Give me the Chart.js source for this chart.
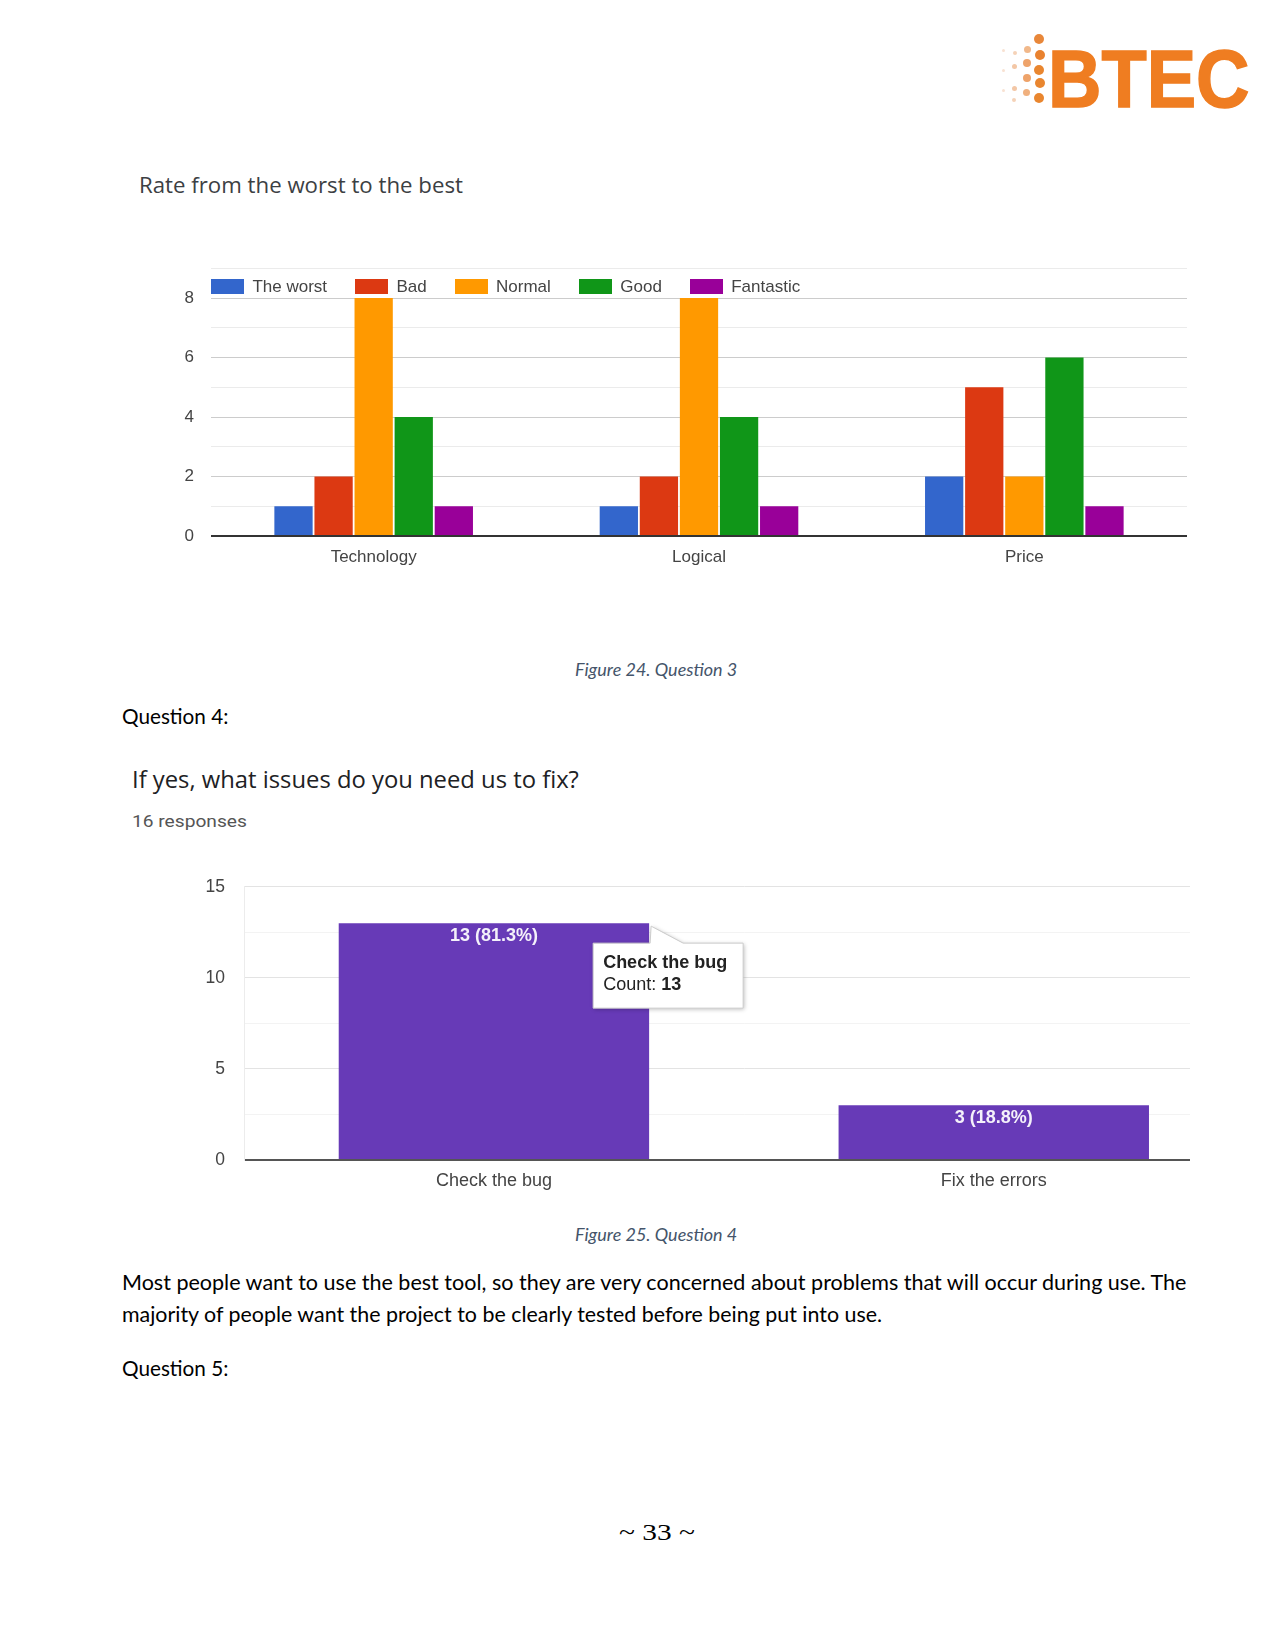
<!DOCTYPE html>
<html>
<head>
<meta charset="utf-8">
<script src="https://cdn.jsdelivr.net/npm/chart.js@4.4.1/dist/chart.umd.min.js"></script>
<style>
html,body{margin:0;padding:0;background:#fff;}
body{width:1275px;height:1651px;position:relative;overflow:hidden;}
.t{position:absolute;white-space:nowrap;line-height:1;transform-origin:0 50%;}
.cal{font-family:Lato,'Noto Sans',sans-serif;font-size:21px;color:#000;}
.cap{font-family:Lato,'Noto Sans',sans-serif;font-style:italic;font-size:17px;color:#44546a;}
.gs{font-family:'Open Sans',Roboto,sans-serif;color:#3c4043;}
#c1wrap{position:absolute;left:130px;top:255px;width:1070px;height:320px;}
#c2wrap{position:absolute;left:150px;top:870px;width:1040px;height:340px;overflow:hidden;}
canvas{display:block;}
#legend1{position:absolute;left:211px;top:279px;height:15px;display:flex;align-items:center;font-family:'Liberation Sans',Arial,sans-serif;font-size:17px;color:#444;line-height:1;}
#legend1 .item{display:flex;align-items:center;margin-right:28px;}
#legend1 .box{width:33px;height:15px;margin-right:8.4px;}
.dot{position:absolute;border-radius:50%;}
#btec{position:absolute;left:1047.5px;top:39px;font-family:'Liberation Sans',Arial,sans-serif;font-weight:bold;font-size:81px;line-height:81px;color:#ef7d21;white-space:nowrap;transform-origin:0 0;-webkit-text-stroke:1.5px #ef7d21;}
</style>
</head>
<body>

<!-- BTEC logo -->
<div id="btec">BTEC</div>
<div id="dots"></div>

<div class="t gs" style="left:139px;top:185px;font-size:21px;" data-w="324">Rate from the worst to the best</div>

<div id="c1wrap"><canvas id="c1" width="1070" height="320"></canvas></div>
<div id="legend1"></div>

<div class="t cap" style="left:574.8px;top:668.5px;" data-w="162">Figure 24. Question 3</div>
<div class="t cal" style="left:122px;top:715px;" data-w="106.5">Question 4:</div>

<div class="t gs" style="left:131.6px;top:779px;font-size:23px;color:#202124;" data-w="447">If yes, what issues do you need us to fix?</div>
<div class="t" style="left:131.6px;top:821px;font-family:Roboto,'Liberation Sans',sans-serif;font-size:17px;color:#555;" data-w="115">16 responses</div>

<div id="c2wrap"><canvas id="c2" width="1110" height="340"></canvas></div>

<div class="t cap" style="left:574.8px;top:1234px;" data-w="162">Figure 25. Question 4</div>
<div class="t cal" style="left:122px;top:1281.3px;" data-w="1064">Most people want to use the best tool, so they are very concerned about problems that will occur during use. The</div>
<div class="t cal" style="left:122px;top:1312.8px;" data-w="760">majority of people want the project to be clearly tested before being put into use.</div>
<div class="t cal" style="left:122px;top:1366.5px;" data-w="106.5">Question 5:</div>

<div class="t" style="left:619px;top:1532px;font-family:'Liberation Serif','DejaVu Serif',serif;font-size:24px;color:#000;" data-w="76">~ 33 ~</div>

<script>
// ---------- Chart 1 data ----------
const categories1 = ['Technology', 'Logical', 'Price'];
const seriesNames1 = ['The worst', 'Bad', 'Normal', 'Good', 'Fantastic'];
const theWorst = [1, 1, 2];
const bad = [2, 2, 5];
const normal = [8, 8, 2];
const good = [4, 4, 6];
const fantastic = [1, 1, 1];
const yTickLabels1 = [0, 2, 4, 6, 8];
const seriesColors1 = ['#3366cc', '#dc3912', '#ff9900', '#109618', '#990099'];

// ---------- Chart 2 data ----------
const categories2 = ['Check the bug', 'Fix the errors'];
const counts2 = [13, 3];
const percents2 = ['81.3%', '18.8%'];
const yTickLabels2 = [0, 5, 10, 15];
const tooltipIndex2 = 0;

// ---------- fit text widths ----------
document.querySelectorAll('.t[data-w]').forEach(el => {
  const w = parseFloat(el.dataset.w);
  const k = w / el.offsetWidth;
  el.style.transform = 'translateY(-50%) scaleX(' + k + ')';
});
(function(){
  const b = document.getElementById('btec');
  b.style.transform = 'scaleX(' + (202 / b.offsetWidth) + ')';
  const dots = [
    [1039.3,39.3,5,'#e8873a'],[1027.3,49.3,3.5,'#f1b88a'],[1040,55,5,'#e9822f'],
    [1015,53.3,2,'#f5d2b8'],[1003,50.7,1.5,'#f8e2d2'],[1026.7,62.7,4,'#eea36a'],
    [1039.3,70,5,'#e9862f'],[1014,66.7,2.5,'#f3c7a6'],[1003,70,1.5,'#f8e2d2'],
    [1026.7,78.3,4,'#eea36a'],[1040,83.3,5,'#e9862f'],[1014,88.3,2.5,'#f3c7a6'],
    [1003,90,1.5,'#f8e2d2'],[1026,92,3.5,'#f0b07e'],[1039.3,97.7,5,'#e9862f'],
    [1014,100,2,'#f5d2b8']
  ];
  const host = document.getElementById('dots');
  dots.forEach(d => {
    const e = document.createElement('div');
    e.className = 'dot';
    e.style.left = (d[0]-d[2]) + 'px'; e.style.top = (d[1]-d[2]) + 'px';
    e.style.width = (2*d[2]) + 'px'; e.style.height = (2*d[2]) + 'px';
    e.style.background = d[3];
    host.appendChild(e);
  });
})();

// ---------- legend 1 ----------
(function(){
  const lg = document.getElementById('legend1');
  seriesNames1.forEach((n, i) => {
    const it = document.createElement('div'); it.className = 'item';
    const bx = document.createElement('span'); bx.className = 'box'; bx.style.background = seriesColors1[i];
    const tx = document.createElement('span'); tx.textContent = n;
    it.appendChild(bx); it.appendChild(tx); lg.appendChild(it);
  });
})();

Chart.defaults.font.family = "'Liberation Sans', Arial, sans-serif";
Chart.defaults.color = '#444';

function noPad(s) { s.paddingTop = 0; s.paddingBottom = 0; s.paddingLeft = 0; s.paddingRight = 0; }

const seriesValues1 = [theWorst, bad, normal, good, fantastic];

const chart1 = new Chart(document.getElementById('c1'), {
  type: 'bar',
  data: {
    labels: categories1,
    datasets: seriesNames1.map((n, i) => ({
      label: n, data: seriesValues1[i], backgroundColor: seriesColors1[i],
      categoryPercentage: 0.616, barPercentage: 0.955
    }))
  },
  options: {
    responsive: false, animation: false, events: [],
    layout: { autoPadding: false, padding: { top: 13.3, right: 13, left: 0, bottom: 0 } },
    plugins: { legend: { display: false }, tooltip: { enabled: false } },
    scales: {
      x: {
        grid: { display: false }, border: { display: false },
        ticks: { color: '#444', font: { size: 17 }, padding: 3 },
        afterFit(s) { s.height = 39; noPad(s); }
      },
      y: {
        min: 0, max: 9,
        border: { display: false },
        grid: {
          drawTicks: false,
          color: c => c.tick.value === 0 ? '#333' : (c.tick.value % 2 === 0 ? '#cccccc' : '#ebebeb'),
          lineWidth: c => c.tick.value === 0 ? 2 : 1
        },
        ticks: {
          stepSize: 1, padding: 17, color: '#444', font: { size: 17 },
          callback: v => yTickLabels1.includes(v) ? String(v) : ''
        },
        afterFit(s) { s.width = 81; noPad(s); }
      }
    }
  }
});

const barLabels2 = {
  id: 'barLabels2',
  afterDatasetsDraw(chart) {
    const ctx = chart.ctx;
    const meta = chart.getDatasetMeta(0);
    ctx.save();
    ctx.font = "bold 18px 'Liberation Sans', Arial, sans-serif";
    ctx.fillStyle = 'rgba(255,255,255,0.93)';
    ctx.textAlign = 'center'; ctx.textBaseline = 'middle';
    meta.data.forEach((el, i) => {
      ctx.fillText(counts2[i] + ' (' + percents2[i] + ')', el.x, el.y + 13);
    });
    ctx.restore();
  }
};

const tooltip2 = {
  id: 'tooltip2',
  afterDraw(chart) {
    const ctx = chart.ctx;
    const el = chart.getDatasetMeta(0).data[tooltipIndex2];
    const right = el.x + el.width / 2, top = el.y;
    const bx = right - 56, by = top + 20, bw = 150, bh = 65;
    ctx.save();
    ctx.beginPath();
    ctx.moveTo(bx, by);
    ctx.lineTo(right + 1, by);
    ctx.lineTo(right + 2, top + 3);
    ctx.lineTo(right + 34, by);
    ctx.lineTo(bx + bw, by);
    ctx.lineTo(bx + bw, by + bh);
    ctx.lineTo(bx, by + bh);
    ctx.closePath();
    ctx.shadowColor = 'rgba(0,0,0,0.28)';
    ctx.shadowBlur = 4; ctx.shadowOffsetX = 1; ctx.shadowOffsetY = 1;
    ctx.fillStyle = '#fff';
    ctx.fill();
    ctx.shadowColor = 'transparent';
    ctx.strokeStyle = '#cccccc'; ctx.lineWidth = 1;
    ctx.stroke();
    ctx.fillStyle = '#222';
    ctx.textBaseline = 'middle'; ctx.textAlign = 'left';
    ctx.font = "bold 18px 'Liberation Sans', Arial, sans-serif";
    ctx.fillText(categories2[tooltipIndex2], bx + 10, by + 20);
    ctx.font = "18px 'Liberation Sans', Arial, sans-serif";
    const lbl = 'Count: ';
    ctx.fillText(lbl, bx + 10, by + 42);
    const lw = ctx.measureText(lbl).width;
    ctx.font = "bold 18px 'Liberation Sans', Arial, sans-serif";
    ctx.fillText(String(counts2[tooltipIndex2]), bx + 10 + lw, by + 42);
    ctx.restore();
  }
};

const chart2 = new Chart(document.getElementById('c2'), {
  type: 'bar',
  data: {
    labels: categories2,
    datasets: [{
      label: 'Count', data: counts2, backgroundColor: '#673ab7',
      categoryPercentage: 0.621, barPercentage: 1
    }]
  },
  options: {
    responsive: false, animation: false, events: [],
    layout: { autoPadding: false, padding: { top: 16.7, right: 16.3, left: 0, bottom: 0 } },
    plugins: { legend: { display: false }, tooltip: { enabled: false } },
    scales: {
      x: {
        grid: { display: false }, border: { display: false },
        ticks: { color: '#444', font: { size: 18 }, padding: 2 },
        afterFit(s) { s.height = 50; noPad(s); }
      },
      y: {
        min: 0, max: 15,
        border: { display: true, color: '#ececec', width: 1 },
        grid: {
          drawTicks: false,
          color: c => c.tick.value === 0 ? '#555' : (c.tick.value % 5 === 0 ? '#e3e3e3' : '#f3f3f3'),
          lineWidth: c => c.tick.value === 0 ? 2 : 1
        },
        ticks: {
          stepSize: 2.5, padding: 19, color: '#444', font: { size: 17.5 },
          callback: v => yTickLabels2.includes(v) ? String(v) : ''
        },
        afterFit(s) { s.width = 94; noPad(s); }
      }
    }
  },
  plugins: [barLabels2, tooltip2]
});
</script>
</body>
</html>
